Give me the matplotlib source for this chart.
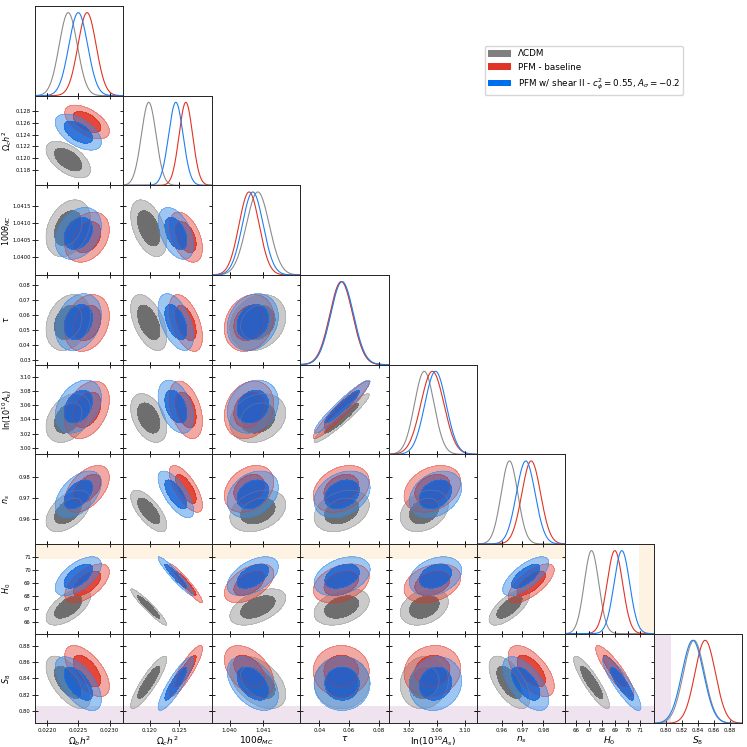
import numpy as np
import matplotlib
matplotlib.use("Agg")
import matplotlib.pyplot as plt
from matplotlib.patches import Patch

# parameter labels and plot ranges
labels = [r'$\Omega_b h^2$', r'$\Omega_c h^2$', r'$100\theta_{MC}$', r'$\tau$',
          r'${\rm ln}(10^{10}A_s)$', r'$n_s$', r'$H_0$', r'$S_8$']
lo = [0.02181, 0.1155, 1.03947, 0.0270, 2.991, 0.9482, 65.13, 0.7846]
hi = [0.02322, 0.1305, 1.04210, 0.0866, 3.117, 0.9905, 72.03, 0.8950]

# ticks per parameter (x on bottom row, y on first column)
xticks = [[0.0220, 0.0225, 0.0230], [0.120, 0.125], [1.040, 1.041], [0.04, 0.06, 0.08],
          [3.02, 3.06, 3.10], [0.96, 0.97, 0.98], [66, 67, 68, 69, 70, 71],
          [0.80, 0.82, 0.84, 0.86, 0.88]]
xfmt = ['%.4f', '%.3f', '%.3f', '%.2f', '%.2f', '%.2f', '%d', '%.2f']
yticks = [[], [0.118, 0.120, 0.122, 0.124, 0.126, 0.128], [1.0400, 1.0405, 1.0410, 1.0415],
          [0.03, 0.04, 0.05, 0.06, 0.07, 0.08], [3.00, 3.02, 3.04, 3.06, 3.08, 3.10],
          [0.96, 0.97, 0.98], [66, 67, 68, 69, 70, 71], [0.80, 0.82, 0.84, 0.86, 0.88]]
yfmt = ['', '%.3f', '%.4f', '%.2f', '%.2f', '%.2f', '%d', '%.2f']

# posterior summaries
mean_lcdm = [0.02234, 0.1198, 1.04084, 0.0550, 3.042, 0.9638, 67.18, 0.8350]
sig_lcdm = [0.000145, 0.00125, 0.00034, 0.0076, 0.0140, 0.0040, 0.57, 0.0132]
mean_pfm = [0.02264, 0.1261, 1.04058, 0.0547, 3.0535, 0.9742, 69.00, 0.8490]
sig_pfm = [0.000145, 0.00115, 0.00030, 0.0077, 0.0165, 0.0045, 0.61, 0.0128]
mean_shear = [0.02250, 0.1244, 1.04069, 0.0553, 3.058, 0.9716, 69.55, 0.8335]
sig_shear = [0.000150, 0.00123, 0.00031, 0.0077, 0.0152, 0.0045, 0.61, 0.0135]

# pairwise correlations (lower triangle)
corr = [
    [1.0],
    [-0.55, 1.0],
    [0.30, -0.45, 1.0],
    [0.25, -0.50, 0.20, 1.0],
    [0.35, -0.40, 0.20, 0.95, 1.0],
    [0.50, -0.70, 0.30, 0.30, 0.30, 1.0],
    [0.60, -0.95, 0.50, 0.35, 0.30, 0.70, 1.0],
    [-0.60, 0.88, -0.45, 0.00, 0.10, -0.60, -0.88, 1.0],
]

# external bands
h0_band_low = 70.9
s8_band_high = 0.806

models = [
    dict(name='ΛCDM', mean=mean_lcdm, sig=sig_lcdm, line='#8c8c8c',
         inner='#555555', outer='#a0a0a0', a_in=0.85, a_out=0.55, patch='#808080'),
    dict(name='PFM - baseline', mean=mean_pfm, sig=sig_pfm, line='#E03424',
         inner='#E03424', outer='#E03424', a_in=0.9, a_out=0.42, patch='#E03424'),
    dict(name=r'PFM w/ shear II - $c_{\phi}^2 = 0.55$, $A_\sigma = -0.2$', mean=mean_shear,
         sig=sig_shear, line='#1f7ff0', inner='#1565d8', outer='#3d8ee8', a_in=0.88,
         a_out=0.5, patch='#006FED'),
]

L68, L95 = 2.279, 5.991
n = len(labels)

fig, axes = plt.subplots(n, n, figsize=(7.47, 7.47), dpi=100)
fig.subplots_adjust(left=0.0469, right=0.9933, bottom=0.0317, top=0.992, wspace=0, hspace=0)

for i in range(n):
    for j in range(n):
        ax = axes[i, j]
        if j > i:
            ax.axis('off')
            continue
        for s in ax.spines.values():
            s.set_linewidth(0.7)
            s.set_color('#222222')
        ax.set_xlim(lo[j], hi[j])
        ax.set_xticks(xticks[j])
        if i == n - 1:
            ax.set_xticklabels([xfmt[j] % v for v in xticks[j]])
            ax.set_xlabel(labels[j], fontsize=6.5, labelpad=1)
        else:
            ax.set_xticklabels([])
        if i == j:
            x = np.linspace(lo[j], hi[j], 400)
            for m in models:
                p = np.exp(-0.5 * ((x - m['mean'][j]) / m['sig'][j]) ** 2)
                ax.plot(x, p, color=m['line'], lw=0.8)
            ax.set_ylim(0, 1.08)
            ax.set_yticks([])
            if j == 6:
                ax.axvspan(h0_band_low, hi[j], color='#fef3e2', zorder=0, lw=0)
            if j == 7:
                ax.axvspan(lo[j], s8_band_high, color='#efe3f0', zorder=0, lw=0)
            ax.tick_params(direction='inout', length=4, width=0.6, labelsize=4, pad=1.5,
                           top=False, right=False, left=False)
            continue
        # 2D panel
        ax.set_ylim(lo[i], hi[i])
        ax.set_yticks(yticks[i])
        if j == 0:
            ax.set_yticklabels([yfmt[i] % v for v in yticks[i]])
            ax.set_ylabel(labels[i], fontsize=5.8, va='center')
            ax.yaxis.set_label_coords(-0.322, 0.5)
        else:
            ax.set_yticklabels([])
        ax.tick_params(direction='inout', length=4, width=0.6, labelsize=4, pad=1.2,
                       top=True, right=True)
        ax.tick_params(axis='y', labelsize=3.8, pad=1.0)
        if i == 6:
            ax.axhspan(h0_band_low, hi[i], color='#fef3e2', zorder=0, lw=0)
        if i == 7:
            ax.axhspan(lo[i], s8_band_high, color='#efe3f0', zorder=0, lw=0)
        xs = np.linspace(lo[j], hi[j], 180)
        ys = np.linspace(lo[i], hi[i], 180)
        X, Y = np.meshgrid(xs, ys)
        rho = corr[i][j]
        for m in models:
            dx = (X - m['mean'][j]) / m['sig'][j]
            dy = (Y - m['mean'][i]) / m['sig'][i]
            r2 = (dx * dx - 2 * rho * dx * dy + dy * dy) / (1 - rho ** 2)
            ax.contourf(X, Y, r2, levels=[L68, L95], colors=[m['outer']], alpha=m['a_out'])
            ax.contourf(X, Y, r2, levels=[-1, L68], colors=[m['inner']], alpha=m['a_in'])
            ax.contour(X, Y, r2, levels=[L68, L95], colors=[m['line']], linewidths=0.4,
                       alpha=0.6)

handles = [Patch(facecolor=m['patch'], edgecolor='none') for m in models]
fig.legend(handles, [m['name'] for m in models], loc='upper left',
           bbox_to_anchor=(0.643, 0.944), fontsize=6.3, frameon=True,
           edgecolor='#cccccc', handlelength=2.6, handleheight=0.8, labelspacing=0.5,
           borderpad=0.35)

fig.savefig('out.png', dpi=100)
